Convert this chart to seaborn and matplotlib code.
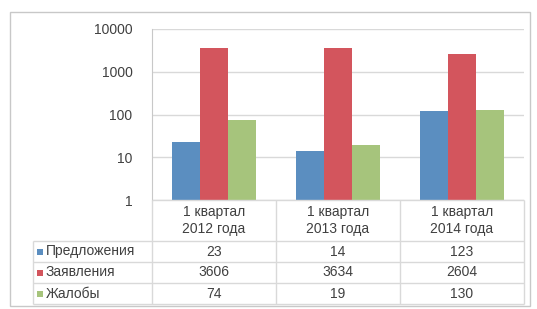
import matplotlib
matplotlib.use('Agg')
import matplotlib.pyplot as plt
import pandas as pd
import seaborn as sns
from matplotlib.patches import Rectangle

# ------------------------------
# Data
# ------------------------------
periods = ['1 квартал\n2012 года', '1 квартал\n2013 года', '1 квартал\n2014 года']
series = ['Предложения', 'Заявления', 'Жалобы']
proposals = [23, 14, 123]
statements = [3606, 3634, 2604]
complaints = [74, 19, 130]
yticks = [1, 10, 100, 1000, 10000]

colors = ['#5B8EC0', '#D3555D', '#A6C47C']
text_color = '#404040'
grid_color = '#D9D9D9'

rows = []
for name, vals in zip(series, [proposals, statements, complaints]):
    for p, v in zip(periods, vals):
        rows.append({'period': p, 'series': name, 'value': v})
df = pd.DataFrame(rows)

sns.set_style('white')
plt.rcParams['font.family'] = ['Liberation Sans', 'DejaVu Sans']

W, H = 537, 309
fig = plt.figure(figsize=(W / 100, H / 100), dpi=100)


def px_rect(x0, y0, x1, y1):
    """pixel box (top-left origin) -> figure fraction rect"""
    return [x0 / W, 1 - y1 / H, (x1 - x0) / W, (y1 - y0) / H]


# outer chart border
fig.patches.append(Rectangle((10 / W, 1 - 306 / H), 520 / W, 294 / H,
                             transform=fig.transFigure, fill=False,
                             edgecolor='#C8C8C8', linewidth=1))

# ------------------------------
# Bars
# ------------------------------
ax = fig.add_axes(px_rect(152, 29, 524, 200))
sns.barplot(data=df, x='period', y='value', hue='series', order=periods,
            hue_order=series, palette=colors, width=0.68, saturation=1,
            linewidth=0, legend=False, ax=ax)
ax.set_yscale('log')
ax.set_ylim(1, 10000)
ax.set_yticks(yticks)
ax.set_yticklabels([str(t) for t in yticks])
ax.minorticks_off()
ax.yaxis.grid(True, color=grid_color, linewidth=1)
ax.set_axisbelow(True)
ax.set_xticks([])
ax.set_xlabel('')
ax.set_ylabel('')
ax.tick_params(axis='y', length=0, labelsize=10, labelcolor=text_color, pad=14)
for side in ['top', 'right', 'bottom']:
    ax.spines[side].set_visible(False)
ax.spines['left'].set_color('#C8C8C8')

# ------------------------------
# Data table (pixel units inside its own axes)
# ------------------------------
label_w, col_w = 119, 124
head_h, row_h = 41, 21
tab_w = label_w + col_w * len(periods)
tab_h = head_h + row_h * len(series)

tax = fig.add_axes(px_rect(33, 200, 33 + tab_w, 200 + tab_h))
tax.set_xlim(0, tab_w)
tax.set_ylim(tab_h, 0)
tax.axis('off')

col_edges = [label_w + col_w * j for j in range(len(periods) + 1)]
row_edges = [head_h + row_h * i for i in range(len(series) + 1)]
line_kw = dict(color=grid_color, linewidth=1, clip_on=False)
tax.hlines(0, label_w, tab_w, **line_kw)
tax.hlines(row_edges, 0, tab_w, **line_kw)
tax.vlines(col_edges, 0, tab_h, **line_kw)
tax.vlines(0, head_h, tab_h, **line_kw)

for j, p in enumerate(periods):
    tax.text(label_w + col_w * (j + 0.5), head_h / 2, p, ha='center', va='center',
             fontsize=10, color=text_color, linespacing=1.25)

for i, (name, vals, col) in enumerate(zip(series, [proposals, statements, complaints], colors)):
    yc = head_h + row_h * (i + 0.5)
    tax.scatter(7, yc, marker='s', s=14, color=col, linewidths=0, clip_on=False)
    tax.text(13, yc, name, ha='left', va='center', fontsize=10, color=text_color)
    for j, v in enumerate(vals):
        tax.text(label_w + col_w * (j + 0.5), yc, str(v), ha='center', va='center',
                 fontsize=10, color=text_color)

fig.savefig('out.png', dpi=100)
